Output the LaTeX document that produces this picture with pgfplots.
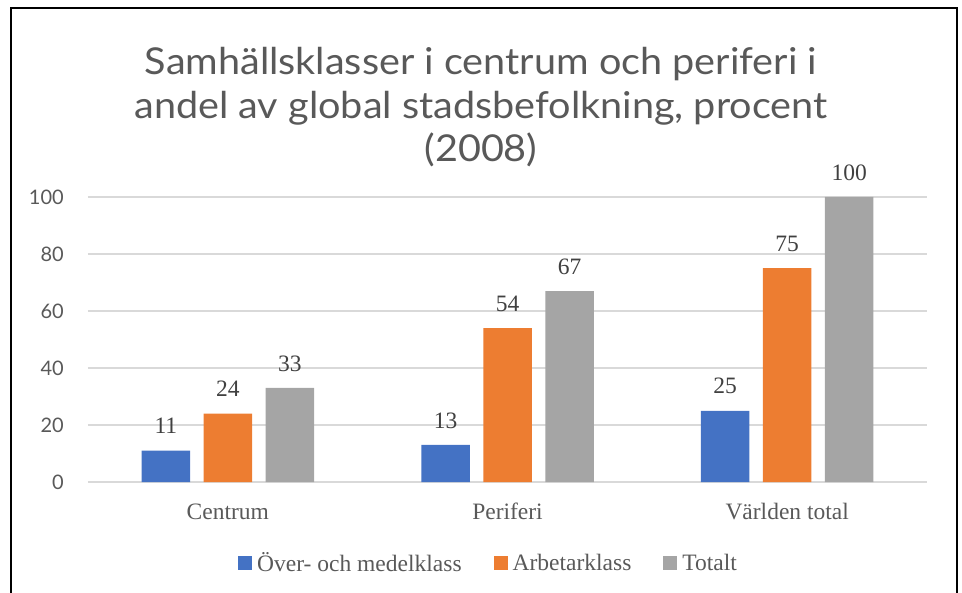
\documentclass[border=0pt]{standalone}
\usepackage{fontspec}
\setmainfont{Liberation Serif}
\newfontfamily\latofont{Lato}
\usepackage{pgfplots}
\pgfplotsset{compat=1.18}
\definecolor{cblue}{HTML}{4472C4}
\definecolor{corange}{HTML}{ED7D31}
\definecolor{cgray}{HTML}{A5A5A5}
\definecolor{txtgray}{HTML}{595959}
\definecolor{lblgray}{HTML}{404040}
\definecolor{gridgray}{HTML}{D9D9D9}
\newcommand{\lbl}{\fontsize{23.5bp}{28bp}\selectfont}
\begin{document}
\begin{tikzpicture}
\path[use as bounding box] (-88bp,-111bp) rectangle (874bp,482bp);
\begin{axis}[
  scale only axis, width=839bp, height=285bp,
  at={(0,0)}, anchor=south west,
  xmin=-0.5, xmax=2.5, ymin=0, ymax=100,
  ybar=13.5bp, bar width=48.5bp,
  xtick={0,1,2}, xticklabels={Centrum,Periferi,Världen total},
  ytick={0,20,...,100},
  major tick length=0pt,
  axis line style={draw=none},
  ymajorgrids, grid style={color=gridgray, line width=1.3bp},
  clip=false,
  /pgf/number format/assume math mode=true,
  yticklabel style={font=\latofont\fontsize{20bp}{23bp}\selectfont, text=txtgray, anchor=east, inner sep=0pt, xshift=-24bp},
  xticklabel style={font=\lbl, text=txtgray, anchor=base, inner sep=0pt, yshift=-37bp},
  nodes near coords,
  nodes near coords style={font=\lbl, text=lblgray, inner sep=0pt, yshift=16.5bp},
  legend columns=3,
  legend style={at={(0.4774,-0.284)}, anchor=center, draw=none, fill=none,
    font=\lbl, text=txtgray, inner sep=0pt,
    /tikz/every odd column/.append style={column sep=3bp},
    /tikz/every even column/.append style={column sep=30bp}},
  every axis plot/.append style={draw=none,
    legend image code/.code={\fill[##1] (0bp,-7bp) rectangle (14bp,7bp);}},
]
\addplot[fill=cblue] coordinates {(0,11) (1,13) (2,25)};
\addlegendentry{Över- och medelklass}
\addplot[fill=corange] coordinates {(0,24) (1,54) (2,75)};
\addlegendentry{Arbetarklass}
\addplot[fill=cgray] coordinates {(0,33) (1,67) (2,100)};
\addlegendentry{Totalt}
\end{axis}
\draw[line width=1.5bp, black] (-77bp,-130bp) -- (-77bp,474bp) -- (869bp,474bp) -- (869bp,-130bp);
% title, three lines as in the source chart
\begin{scope}[every node/.style={font=\latofont\fontsize{37bp}{43.5bp}\selectfont, text=txtgray, anchor=base, inner sep=0pt, xscale=1.07}]
\node at (393bp,407bp) {Samhällsklasser i centrum och periferi i};
\node at (393bp,363.5bp) {andel av global stadsbefolkning, procent};
\node at (393bp,320bp) {(2008)};
\end{scope}
\end{tikzpicture}
\end{document}
